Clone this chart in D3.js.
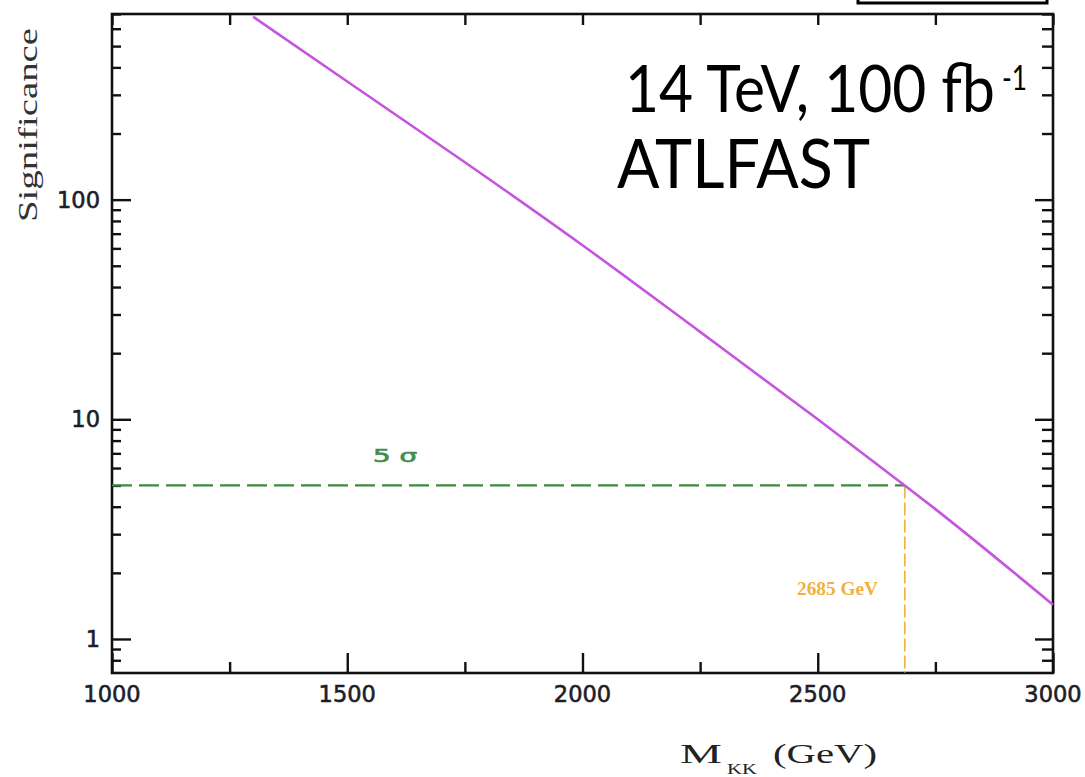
<!DOCTYPE html>
<html>
<head>
<meta charset="utf-8">
<script src="https://cdn.jsdelivr.net/npm/d3@7"></script>
<style>
  html, body { margin: 0; padding: 0; background: #fff; }
  svg { display: block; }
</style>
</head>
<body>
<svg id="chart" width="1085" height="777"></svg>
<script>
// Significance vs. KK mass
const massGeV      = [1300, 1500, 1750, 2000, 2250, 2500, 2685, 2750, 3000];
const significance = [680, 345, 148, 62, 25, 10.0, 5.0, 3.9, 1.43];

const xTicksMajor = [1000, 1500, 2000, 2500, 3000];
const xTicksMinor = [1250, 1750, 2250, 2750];
const yTicksMajor = [1, 10, 100];
const yTicksMinor = [0.8, 0.9, 2, 3, 4, 5, 6, 7, 8, 9, 20, 30, 40, 50, 60, 70, 80, 90, 200, 300, 400, 500, 600, 700];

const discoveryLevel = 5;      // 5 sigma
const reachMass = 2685;        // GeV

const svg = d3.select("#chart");
const L = 112, R = 1053, T = 14, B = 673;

const x = d3.scaleLinear().domain([1000, 3000]).range([L, R]);
const y = d3.scaleLog().domain([0.7, 700]).range([B, T]);

// frame
svg.append("rect")
  .attr("x", L).attr("y", T).attr("width", R - L).attr("height", B - T)
  .attr("fill", "none").attr("stroke", "#111").attr("stroke-width", 2.6);

// axes built from d3 axis generators, ticks pointing inward
function axisGroup(gen, tx, ty) {
  const g = svg.append("g").attr("transform", `translate(${tx},${ty})`).call(gen);
  g.select(".domain").remove();
  g.selectAll(".tick line").attr("stroke", "#111").attr("stroke-width", 2.4);
  return g;
}

// bottom
axisGroup(d3.axisBottom(x).tickValues(xTicksMajor).tickSize(-20).tickFormat(""), 0, B);
axisGroup(d3.axisBottom(x).tickValues(xTicksMinor).tickSize(-11).tickFormat(""), 0, B);
// top
axisGroup(d3.axisTop(x).tickValues(xTicksMajor.concat(xTicksMinor)).tickSize(-11).tickFormat(""), 0, T);
// left
axisGroup(d3.axisLeft(y).tickValues(yTicksMajor).tickSize(-19).tickFormat(""), L, 0);
axisGroup(d3.axisLeft(y).tickValues(yTicksMinor).tickSize(-9).tickFormat(""), L, 0);
// right
axisGroup(d3.axisRight(y).tickValues(yTicksMajor).tickSize(-18).tickFormat(""), R, 0);
axisGroup(d3.axisRight(y).tickValues(yTicksMinor).tickSize(-11).tickFormat(""), R, 0);

// tick labels
const tickFont = "DejaVu Sans, Verdana, sans-serif";
svg.append("g").selectAll("text").data(xTicksMajor).join("text")
  .attr("x", d => x(d)).attr("y", 702)
  .attr("text-anchor", "middle")
  .attr("font-family", tickFont)
  .attr("font-size", 22.5).attr("fill", "#1e1e28")
  .attr("stroke", "#1e1e28").attr("stroke-width", 0.6)
  .text(d => d);

svg.append("g").selectAll("text").data(yTicksMajor).join("text")
  .attr("x", 100).attr("y", d => y(d) + 8)
  .attr("text-anchor", "end")
  .attr("font-family", tickFont)
  .attr("font-size", 22.5).attr("fill", "#1e1e28")
  .attr("stroke", "#1e1e28").attr("stroke-width", 0.6)
  .text(d => d);

// axis titles
svg.append("text")
  .attr("transform", "translate(37,125) rotate(-90)")
  .attr("text-anchor", "middle")
  .attr("font-family", "Liberation Serif, Times New Roman, serif")
  .attr("font-size", 28).attr("fill", "#333")
  .attr("textLength", 194).attr("lengthAdjust", "spacingAndGlyphs")
  .text("Significance");

const xt = svg.append("g")
  .attr("font-family", "Liberation Serif, Times New Roman, serif")
  .attr("fill", "#222");
xt.append("text").attr("x", 680).attr("y", 763).attr("font-size", 27)
  .attr("textLength", 42).attr("lengthAdjust", "spacingAndGlyphs").text("M");
xt.append("text").attr("x", 727).attr("y", 774).attr("font-size", 15)
  .attr("textLength", 30).attr("lengthAdjust", "spacingAndGlyphs").text("KK");
xt.append("text").attr("x", 773).attr("y", 763).attr("font-size", 27)
  .attr("textLength", 104).attr("lengthAdjust", "spacingAndGlyphs").text("(GeV)");

// 5 sigma reference line, up to the reach mass
svg.append("line")
  .attr("x1", x(1000)).attr("x2", x(reachMass))
  .attr("y1", y(discoveryLevel)).attr("y2", y(discoveryLevel))
  .attr("stroke", "#3d8a3d").attr("stroke-width", 2.2)
  .attr("stroke-dasharray", "20,7");

// vertical marker at the reach mass
svg.append("line")
  .attr("x1", x(reachMass)).attr("x2", x(reachMass))
  .attr("y1", y(discoveryLevel)).attr("y2", B)
  .attr("stroke", "#f2b640").attr("stroke-width", 1.8)
  .attr("stroke-dasharray", "13,4");

// significance curve
const line = d3.line()
  .x((d, i) => x(massGeV[i]))
  .y(d => y(d))
  .curve(d3.curveMonotoneX);
svg.append("path")
  .datum(significance)
  .attr("d", line)
  .attr("fill", "none")
  .attr("stroke", "#c455dc")
  .attr("stroke-width", 2.6);

// annotations
svg.append("text")
  .attr("x", 373).attr("y", 462)
  .attr("font-family", "DejaVu Sans, Verdana, sans-serif")
  .attr("font-size", 18).attr("fill", "#3f8f4f")
  .attr("stroke", "#3f8f4f").attr("stroke-width", 0.7)
  .attr("textLength", 44).attr("lengthAdjust", "spacingAndGlyphs")
  .text("5 σ");

svg.append("text")
  .attr("x", 797).attr("y", 595)
  .attr("font-family", "Liberation Serif, Times New Roman, serif")
  .attr("font-weight", "bold")
  .attr("font-size", 19).attr("fill", "#f2b040")
  .attr("textLength", 81).attr("lengthAdjust", "spacingAndGlyphs")
  .text(reachMass + " GeV");

// run conditions (slightly tall humanist sans)
const info = svg.append("g")
  .attr("font-family", "Lato, 'Open Sans', sans-serif")
  .attr("fill", "#000");
info.append("text")
  .attr("transform", "translate(625,112) scale(1,1.13)")
  .attr("font-size", 59)
  .attr("textLength", 370).attr("lengthAdjust", "spacingAndGlyphs")
  .text("14 TeV, 100 fb");
info.append("text")
  .attr("transform", "translate(1002,90) scale(1,1.25)")
  .attr("font-size", 28)
  .attr("textLength", 25).attr("lengthAdjust", "spacingAndGlyphs")
  .text("-1");
info.append("text")
  .attr("transform", "translate(617,188) scale(1,1.07)")
  .attr("font-size", 63)
  .attr("textLength", 253).attr("lengthAdjust", "spacingAndGlyphs")
  .text("ATLFAST");

// box at the top right edge
svg.append("rect")
  .attr("x", 858).attr("y", -20).attr("width", 189).attr("height", 23)
  .attr("fill", "none").attr("stroke", "#000").attr("stroke-width", 3);
</script>
</body>
</html>
